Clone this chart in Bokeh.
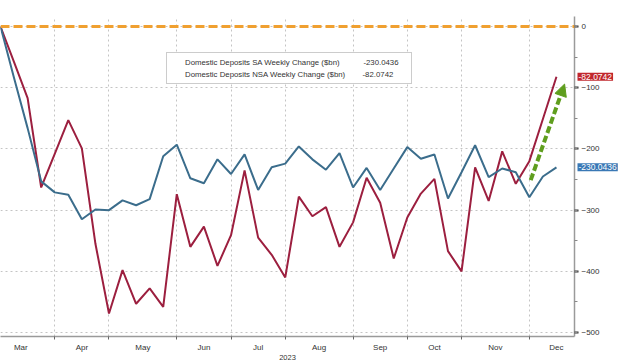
import pandas as pd
from bokeh.plotting import figure
from bokeh.models import (FixedTicker, SingleIntervalTicker, Span, Label, Legend, LegendItem,
                          Arrow, NormalHead, Range1d, DatetimeTickFormatter)
from bokeh.embed import file_html
from bokeh.resources import INLINE

# ---------------- data ----------------
start_date = "2023-03-08"
n_weeks = 42
dates = pd.date_range(start_date, periods=n_weeks, freq="7D")

sa = [0, -84, -166, -253, -271, -275, -315, -299, -300, -284, -292, -282, -212, -193,
      -248, -256, -217, -241, -209, -267, -230, -224, -196, -217, -234, -207, -263, -231,
      -267, -232, -197, -216, -209, -281, -238, -194, -246, -232, -238, -279, -245, -230.0436]
nsa = [0, -58, -117, -263, -208, -153, -199, -355, -469, -398, -453, -428, -458, -274,
       -360, -327, -391, -341, -235, -345, -373, -410, -278, -310, -295, -360, -320, -247,
       -288, -379, -312, -273, -249, -367, -400, -230, -285, -204, -257, -220, -151, -82.0742]

sa_label = "Domestic Deposits SA Weekly Change ($bn)"
nsa_label = "Domestic Deposits NSA Weekly Change ($bn)"
sa_last = "-230.0436"
nsa_last = "-82.0742"
year_label = "2023"

BLUE = "#3b6d8c"
RED = "#9c1f3f"
FONT = "Liberation Sans"
NB = "\u00a0"


def ms(ts):
    return ts.value / 1e6


def wk(w):
    return dates[0] + pd.Timedelta(weeks=w)


# ---------------- figure ----------------
x_start = dates[0]
x_end = wk(42.33)
p = figure(width=620, height=362, x_axis_type="datetime", y_axis_location="right",
           x_range=Range1d(x_start, x_end), y_range=Range1d(-506.5, 16.4),
           output_backend="svg", toolbar_location=None,
           min_border_left=0, min_border_top=0, min_border_right=46, min_border_bottom=22)
p.outline_line_color = None
p.background_fill_color = "white"
p.border_fill_color = "white"

# month boundaries (first weekly observation of each month) and label centres
all_weeks = pd.date_range(dates[0] - pd.Timedelta(days=7), dates[-1] + pd.Timedelta(days=14), freq="7D")
bounds = []
seen = set()
for d in all_weeks:
    key = (d.year, d.month)
    if key not in seen:
        seen.add(key)
        bounds.append(d)
mids = [bounds[i] + (bounds[i + 1] - bounds[i]) / 2 for i in range(len(bounds) - 1)]
bounds_ms = [ms(b) for b in bounds[1:-1]]
mids_ms = [ms(m) for m in mids]

p.xaxis.ticker = FixedTicker(ticks=mids_ms, minor_ticks=bounds_ms)
fmt = "%b"
p.xaxis.formatter = DatetimeTickFormatter(microseconds=fmt, milliseconds=fmt, seconds=fmt,
                                          minsec=fmt, minutes=fmt, hourmin=fmt, hours=fmt,
                                          days=fmt, months=fmt, years=fmt)
p.xaxis.major_tick_line_color = None
p.xaxis.minor_tick_out = 3
p.xaxis.minor_tick_in = 0
p.xaxis.minor_tick_line_color = "#666666"
p.xaxis.axis_line_color = "#9a9a9a"
p.xaxis.axis_line_width = 1.5
p.xaxis.major_label_text_font = FONT
p.xaxis.major_label_text_font_size = "8px"
p.xaxis.major_label_text_color = "#333333"
p.xaxis.major_label_standoff = 0
p.xaxis.axis_label = year_label
p.xaxis.axis_label_text_font = FONT
p.xaxis.axis_label_text_font_size = "7.5px"
p.xaxis.axis_label_text_font_style = "normal"
p.xaxis.axis_label_text_color = "#333333"
p.xaxis.axis_label_standoff = 0

p.yaxis.ticker = SingleIntervalTicker(interval=100, num_minor_ticks=2)
p.yaxis.axis_line_color = "#9a9a9a"
p.yaxis.axis_line_width = 1.5
p.yaxis.major_tick_out = 4
p.yaxis.major_tick_in = 0
p.yaxis.major_tick_line_color = "#333333"
p.yaxis.major_tick_line_width = 2
p.yaxis.minor_tick_out = 3
p.yaxis.minor_tick_in = 0
p.yaxis.minor_tick_line_color = "#888888"
p.yaxis.major_label_text_font = FONT
p.yaxis.major_label_text_font_size = "8px"
p.yaxis.major_label_text_color = "#333333"
p.yaxis.major_label_standoff = 3

p.xgrid.ticker = FixedTicker(ticks=bounds_ms)
for g in (p.xgrid, p.ygrid):
    g.grid_line_color = "#c4c4c4"
    g.grid_line_dash = "2 3"
    g.grid_line_width = 1

# zero line
p.add_layout(Span(location=0, dimension="width", line_color="#f0a030",
                  line_width=3, line_dash="9 4"))

# series
p.line(dates, nsa, line_color=RED, line_width=2)
p.line(dates, sa, line_color=BLUE, line_width=2)

# green arrow
green = "#5f9e1e"
p.add_layout(Arrow(end=NormalHead(size=12, fill_color=green, line_color=green),
                   x_start=ms(wk(39.1)), y_start=-251,
                   x_end=ms(wk(41.6)), y_end=-94,
                   line_color=green, line_width=4, line_dash="7 3"))

# legend (square swatches), last values appended to the labels
q_sa = p.quad(left=[], right=[], top=[], bottom=[], fill_color="#2f6d96", line_color="#2f6d96")
q_nsa = p.quad(left=[], right=[], top=[], bottom=[], fill_color="#a3283f", line_color="#a3283f")
legend = Legend(items=[LegendItem(label=sa_label + NB * 11 + sa_last, renderers=[q_sa]),
                       LegendItem(label=nsa_label + NB * 8 + nsa_last, renderers=[q_nsa])],
                location=(166, 252), orientation="vertical",
                border_line_color="#9a9a9a", border_line_width=1,
                background_fill_color="white", background_fill_alpha=1,
                label_text_font=FONT, label_text_font_size="7.8px", label_text_color="#333333",
                glyph_width=9, glyph_height=9, label_standoff=5, padding=4, spacing=2,
                margin=0, label_height=10, label_width=222)
p.add_layout(legend)

# last-value tags beside the right axis (side panel so they are not clipped)
for txt, yy, col in ((nsa_last, nsa[-1], "#c1272d"), (sa_last, sa[-1], "#3a78b5")):
    p.add_layout(Label(x=ms(x_end), y=yy, x_offset=3, text=txt,
                       text_align="left", text_baseline="middle", text_font=FONT,
                       text_font_size="8.5px", text_color="white", padding=1,
                       background_fill_color=col, background_fill_alpha=1), "above")

open("out.html", "w").write(file_html(p, INLINE))
